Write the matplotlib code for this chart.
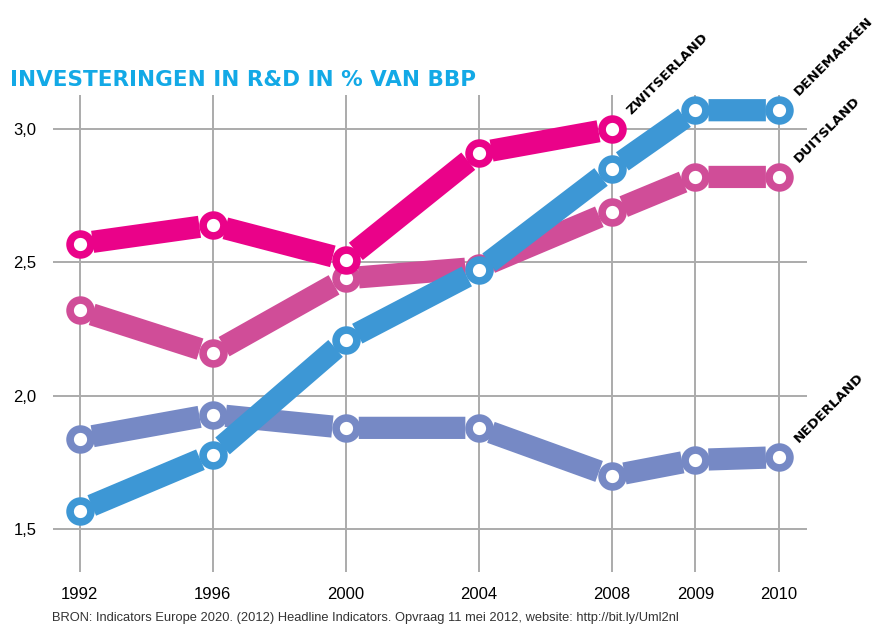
import numpy as np
import matplotlib.pyplot as plt

years = ['1992', '1996', '2000', '2004', '2008', '2009', '2010']
x_pos = [0, 1, 2, 3, 4, 4.63, 5.26]

zwitserland = [2.57, 2.64, 2.51, 2.91, 3.00]
duitsland = [2.32, 2.16, 2.44, 2.48, 2.69, 2.82, 2.82]
denemarken = [1.57, 1.78, 2.21, 2.47, 2.85, 3.07, 3.07]
nederland = [1.84, 1.93, 1.88, 1.88, 1.70, 1.76, 1.77]

y_ticks = [1.5, 2.0, 2.5, 3.0]
y_labels = ['1,5', '2,0', '2,5', '3,0']

series = [
    ('NEDERLAND', nederland, '#7689c5'),
    ('DUITSLAND', duitsland, '#d04d98'),
    ('ZWITSERLAND', zwitserland, '#ea0289'),
    ('DENEMARKEN', denemarken, '#3d97d5'),
]

fig = plt.figure(figsize=(8.78, 6.26), dpi=100)
ax = fig.add_axes([53/878, 1 - 572/626, 754/878, 477/626])

for i, (name, vals, col) in enumerate(series):
    xs = x_pos[:len(vals)]
    z = 3 + i
    for k in range(len(vals) - 1):
        ax.annotate('', xy=(xs[k+1], vals[k+1]), xytext=(xs[k], vals[k]),
                    arrowprops=dict(arrowstyle='-', lw=16, color=col,
                                    shrinkA=9.5, shrinkB=9.5, capstyle='butt'),
                    zorder=z, annotation_clip=False)
    ax.plot(xs, vals, 'o', ms=15, mfc='white', mec=col, mew=5.5, zorder=z + 0.5)
    ax.annotate(name, xy=(xs[-1], vals[-1]), xytext=(22, 12), textcoords='offset pixels',
                rotation=45, rotation_mode='anchor', ha='left', va='bottom',
                fontsize=9.6, fontweight='bold', family='DejaVu Sans', color='black',
                annotation_clip=False, zorder=10)

ax.set_xlim(-0.2, 5.47)
ax.set_ylim(1.34, 3.127)
ax.set_xticks(x_pos)
ax.set_xticklabels(years, fontsize=12, family='Liberation Sans')
ax.set_yticks(y_ticks)
ax.set_yticklabels(y_labels, fontsize=12, family='Liberation Sans')
ax.tick_params(length=0)
ax.tick_params(axis='x', pad=11)
ax.tick_params(axis='y', pad=12)
ax.grid(True, color='#ababab', lw=1.4)
ax.set_axisbelow(True)
for s in ax.spines.values():
    s.set_visible(False)

fig.text(10/878, 1 - 80/626, 'INVESTERINGEN IN R&D IN % VAN BBP', fontsize=15.5,
         fontweight='bold', color='#13a9e6', va='center', ha='left', family='DejaVu Sans')
fig.text(52/878, 1 - 618/626,
         'BRON: Indicators Europe 2020. (2012) Headline Indicators. Opvraag 11 mei 2012, website: http://bit.ly/Uml2nl',
         fontsize=9.3, color='#333333', va='center', ha='left', family='Liberation Sans')

fig.savefig('out.png', dpi=100)
